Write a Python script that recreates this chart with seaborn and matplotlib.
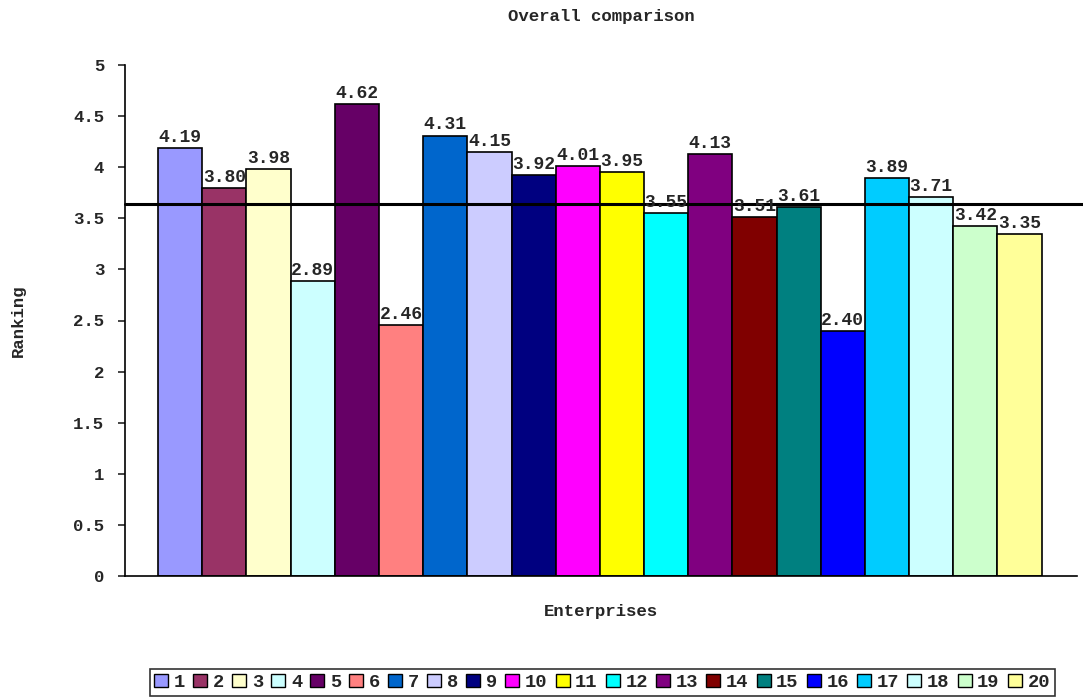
import matplotlib
matplotlib.use("Agg")
import matplotlib.pyplot as plt
import seaborn as sns
import pandas as pd

# --- data ---
enterprises = [str(i) for i in range(1, 21)]
ranking = [4.19, 3.80, 3.98, 2.89, 4.62, 2.46, 4.31, 4.15, 3.92, 4.01,
           3.95, 3.55, 4.13, 3.51, 3.61, 2.40, 3.89, 3.71, 3.42, 3.35]
overall_line = 3.64
colors = ["#9999FF", "#993366", "#FFFFCC", "#CCFFFF", "#660066", "#FF8080",
          "#0066CC", "#CCCCFF", "#000080", "#FF00FF", "#FFFF00", "#00FFFF",
          "#800080", "#800000", "#008080", "#0000FF", "#00CCFF", "#CCFFFF",
          "#CCFFCC", "#FFFF99"]

df = pd.DataFrame({"Enterprise": enterprises, "Ranking": ranking})

sns.set_style("white")
plt.rcParams["font.family"] = ["Liberation Mono", "DejaVu Sans Mono"]
plt.rcParams["font.weight"] = "bold"

fig = plt.figure(figsize=(10.83, 6.98), dpi=100)
ax = fig.add_axes([125 / 1083, 1 - 576 / 698, (1077 - 125) / 1083, (576 - 65) / 698])

sns.barplot(data=df, x="Enterprise", y="Ranking", hue="Enterprise",
            palette=colors, saturation=1, width=1.0, edgecolor="black",
            linewidth=1.2, dodge=False, legend=True, ax=ax)

for i, v in enumerate(ranking):
    ax.text(i, v + 0.02, f"{v:.2f}", ha="center", va="bottom",
            fontsize=13, fontweight="bold")

ax.axhline(overall_line, color="black", linewidth=2.2, xmin=0, xmax=1.01,
           clip_on=False)

ax.set_xlim(-1.25, 20.3)
ax.set_ylim(0, 5)
ax.set_yticks([0, 0.5, 1, 1.5, 2, 2.5, 3, 3.5, 4, 4.5, 5])
ax.set_yticklabels(["0", "0.5", "1", "1.5", "2", "2.5", "3", "3.5", "4", "4.5", "5"])
ax.set_xticks([])
ax.tick_params(axis="y", which="major", direction="out", length=5, width=1.2,
               left=True, labelsize=12.5, pad=10)
for lbl in ax.get_yticklabels():
    lbl.set_fontweight("bold")

for side in ["top", "right"]:
    ax.spines[side].set_visible(False)
for side in ["left", "bottom"]:
    ax.spines[side].set_color("black")
    ax.spines[side].set_linewidth(1.2)

ax.set_xlabel("Enterprises", fontsize=12.5, fontweight="bold", labelpad=20)
ax.set_ylabel("Ranking", fontsize=12.5, fontweight="bold", labelpad=34)
ax.set_title("Overall comparison", fontsize=12.5, fontweight="bold", pad=32)

handles, labels = ax.get_legend_handles_labels()
ax.legend_.remove()
leg = fig.legend(handles, labels, loc="upper center", bbox_to_anchor=(0.556, 1 - 669 / 698),
                 ncol=20, frameon=True, fancybox=False, edgecolor="black",
                 handlelength=0.75, handleheight=0.75, handletextpad=0.3,
                 columnspacing=0.43, borderpad=0.25, borderaxespad=0,
                 prop={"family": "Liberation Mono", "weight": "bold", "size": 13.5})
leg.get_frame().set_linewidth(1.2)
for h in leg.legend_handles:
    h.set_edgecolor("black")
    h.set_linewidth(1.0)

fig.savefig("out.png", dpi=100)
